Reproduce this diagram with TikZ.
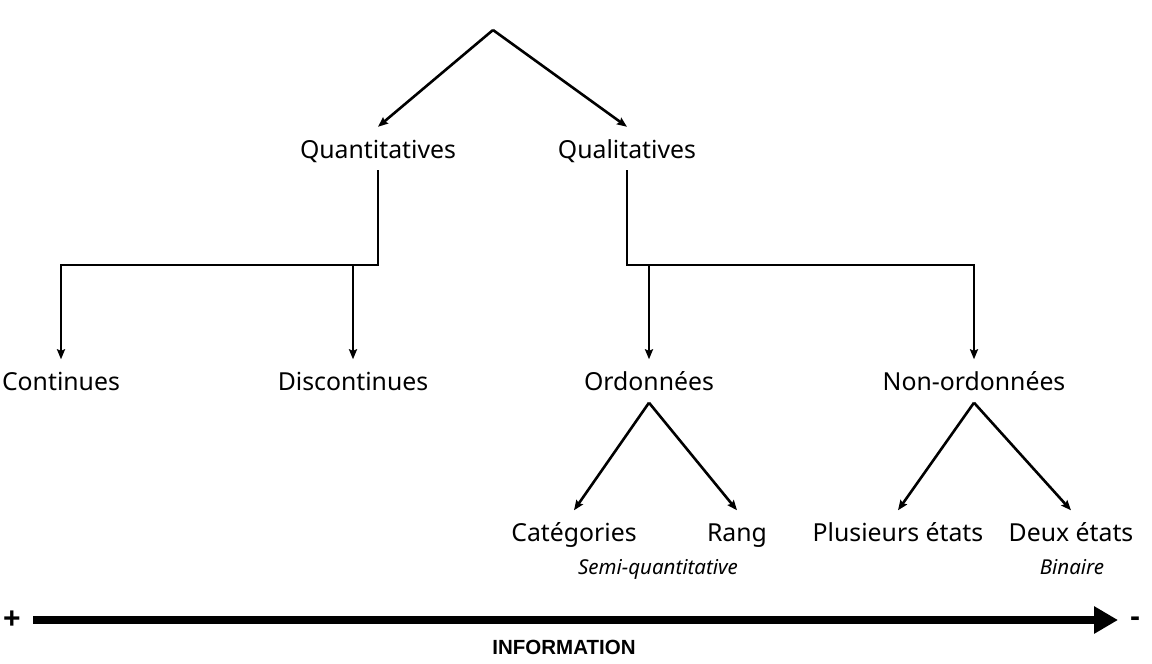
\documentclass[tikz,border=0pt]{standalone}
\usepackage{fontspec}
\setmainfont{Noto Sans}
\newfontfamily\infofont{Liberation Sans}
\usetikzlibrary{arrows.meta}
\tikzset{
  lab/.style={font=\fontsize{24.8}{28}\selectfont, inner xsep=0pt, inner ysep=10pt, text height=21pt, text depth=2pt},
  sub/.style={font=\fontsize{20.5}{23}\selectfont\itshape, inner sep=0pt, text height=15pt, text depth=5pt},
  arr/.style={line width=2.6pt, -{Stealth[length=10pt,width=8pt,inset=1.5pt]}},
  big/.style={line width=8pt, -{Triangle[length=24pt,width=26pt]}},
  pm/.style={font=\infofont\bfseries\fontsize{30}{30}\selectfont, inner sep=0pt},
}
\begin{document}
\begin{tikzpicture}[x=1pt,y=-1pt]
\useasboundingbox (0,0) rectangle (1152,664);
\coordinate (root) at (493,30);
\node[lab] (quant) at (378,148.5) {Quantitatives};
\node[lab] (qual) at (627,148.5) {Qualitatives};
\node[lab] (cont) at (61,381) {Continues};
\node[lab] (disc) at (353,381) {Discontinues};
\node[lab] (ord) at (649,381) {Ordonnées};
\node[lab] (nord) at (974,381) {Non-ordonnées};
\node[lab] (cat) at (574,532) {Catégories};
\node[lab] (rang) at (737,532) {Rang};
\node[lab] (plus) at (898,532) {Plusieurs états};
\node[lab] (deux) at (1071,532) {Deux états};
\node[sub] (semi) at (658,569.5) {Semi-quantitative};
\node[sub] (bin) at (1072,569.5) {Binaire};
\coordinate (bar) at (0,265);
\draw[arr] (root) -- (quant.north);
\draw[arr] (root) -- (qual.north);
\draw[arr, line join=miter] (quant.south) -- (quant.south |- bar) -| (cont.north);
\draw[arr] (disc.north |- bar) -- (disc.north);
\draw[arr, line join=miter] (qual.south) -- (qual.south |- bar) -| (nord.north);
\draw[arr] (ord.north |- bar) -- (ord.north);
\draw[arr] (ord.south) -- (cat.north);
\draw[arr] (ord.south) -- (rang.north);
\draw[arr] (nord.south) -- (plus.north);
\draw[arr] (nord.south) -- (deux.north);
\coordinate (infoL) at (33,620);
\coordinate (infoR) at (1118,620);
\draw[big] (infoL) -- (infoR);
\node[pm] (plusS) at (12,620) {+};
\node[pm] (minusS) at (1135,622) {-};
\node[font=\infofont\bfseries\fontsize{20.5}{22}\selectfont, inner sep=0pt] (info) at (564,647) {INFORMATION};
\end{tikzpicture}
\end{document}
